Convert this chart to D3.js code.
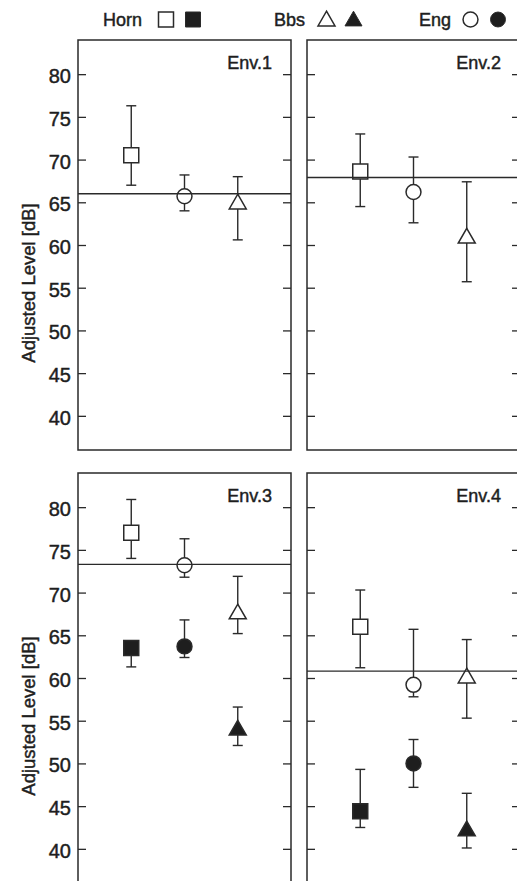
<!DOCTYPE html>
<html>
<head>
<meta charset="utf-8">
<script src="https://cdn.jsdelivr.net/npm/d3@7"></script>
<style>
  body { margin: 0; background: #fff; }
  text { font-family: "Liberation Sans", Arial, sans-serif; fill: #1e1e1e; stroke: #1e1e1e; stroke-width: 0.45px; }
</style>
</head>
<body>
<div id="chart"></div>
<script>
// Adjusted level per environment, instruments on x: Horn, Eng, Bbs
const envs = ["Env.1", "Env.2", "Env.3", "Env.4"];
const instruments = ["Horn", "Eng", "Bbs"];
const yTicks = [40, 45, 50, 55, 60, 65, 70, 75, 80];
const refLevel = [66.0, 67.9, 73.3, 60.8];

// open markers
const openMean = [[70.5, 65.7, 64.8], [68.6, 66.2, 60.8], [77.0, 73.2, 67.5], [66.0, 59.2, 60.0]];
const openLow  = [[67.0, 64.0, 60.6], [64.5, 62.6, 55.7], [74.0, 71.8, 65.2], [61.2, 57.8, 55.3]];
const openHigh = [[76.3, 68.2, 68.0], [73.0, 70.3, 67.4], [80.9, 76.3, 71.9], [70.3, 65.7, 64.5]];

// filled markers (only Env.3 and Env.4)
const filledMean = [null, null, [63.5, 63.7, 53.9], [44.4, 50.0, 42.1]];
const filledLow  = [null, null, [61.3, 62.4, 52.1], [42.5, 47.2, 40.1]];
const filledHigh = [null, null, [64.2, 66.8, 56.6], [49.3, 52.8, 46.5]];

const width = 517, height = 881;
const svg = d3.select("#chart").append("svg")
  .attr("width", width)
  .attr("height", height);

const panelW = 213, panelH = 410;
const panelX = [78, 307];
const panelY = [40, 473];
const ink = "#2a2a2a";

const shapeOf = { Horn: d3.symbolSquare, Eng: d3.symbolCircle, Bbs: d3.symbolTriangle };
const sizeOf = { Horn: 225, Eng: 175, Bbs: 125 };

// legend
const legend = [
  { name: "Horn", x: 103, open: 166, filled: 193 },
  { name: "Bbs", x: 274, open: 326.5, filled: 353.5 },
  { name: "Eng", x: 419, open: 470.5, filled: 498 }
];
legend.forEach(l => {
  svg.append("text").attr("x", l.x).attr("y", 26)
    .attr("font-size", 18).text(l.name);
  svg.append("path").attr("d", d3.symbol(shapeOf[l.name], sizeOf[l.name])())
    .attr("transform", `translate(${l.open},${l.name === "Bbs" ? 21 : 19.5})`)
    .attr("fill", "#fff").attr("stroke", ink).attr("stroke-width", 1.5);
  svg.append("path").attr("d", d3.symbol(shapeOf[l.name], sizeOf[l.name])())
    .attr("transform", `translate(${l.filled},${l.name === "Bbs" ? 21 : 19.5})`)
    .attr("fill", "#1e1e1e").attr("stroke", ink).attr("stroke-width", 1);
});

envs.forEach((env, i) => {
  const row = Math.floor(i / 2), col = i % 2;
  const x0 = panelX[col], y0 = panelY[row];
  const x = d3.scaleLinear().domain([0, 4]).range([x0, x0 + panelW]);
  const y = d3.scaleLinear().domain([36, 84]).range([y0 + panelH, y0]);
  const g = svg.append("g");

  // ticks inward on both sides
  const left = g.append("g").attr("transform", `translate(${x0},0)`)
    .call(d3.axisRight(y).tickValues(yTicks).tickSize(8).tickFormat(""));
  left.select(".domain").remove();
  left.selectAll("line").attr("stroke", ink).attr("stroke-width", 1.3);
  const right = g.append("g").attr("transform", `translate(${x0 + panelW},0)`)
    .call(d3.axisLeft(y).tickValues(yTicks).tickSize(8).tickFormat(""));
  right.select(".domain").remove();
  right.selectAll("line").attr("stroke", ink).attr("stroke-width", 1.3);

  if (col === 0) {
    g.selectAll(".ylab").data(yTicks).enter().append("text")
      .attr("x", x0 - 7).attr("y", d => y(d) + 9)
      .attr("text-anchor", "end").attr("font-size", 20)
      .text(d => d);
    g.append("text")
      .attr("transform", `translate(35,${y0 + 243}) rotate(-90)`)
      .attr("text-anchor", "middle").attr("font-size", 18.5)
      .text("Adjusted Level [dB]");
  }

  g.append("rect").attr("x", x0).attr("y", y0)
    .attr("width", panelW).attr("height", panelH)
    .attr("fill", "none").attr("stroke", ink).attr("stroke-width", 1.5);

  g.append("text").attr("x", x0 + 194).attr("y", y0 + 29)
    .attr("text-anchor", "end").attr("font-size", 18).text(env);

  const series = [
    { mean: openMean[i], low: openLow[i], high: openHigh[i], fill: "#fff" },
    { mean: filledMean[i], low: filledLow[i], high: filledHigh[i], fill: "#1e1e1e" }
  ].filter(s => s.mean);

  series.forEach(s => {
    instruments.forEach((inst, k) => {
      const cx = x(k + 1);
      const eb = g.append("g").attr("stroke", ink).attr("stroke-width", 1.4);
      eb.append("line").attr("x1", cx).attr("x2", cx)
        .attr("y1", y(s.low[k])).attr("y2", y(s.high[k]));
      [s.low[k], s.high[k]].forEach(v => {
        eb.append("line").attr("x1", cx - 5).attr("x2", cx + 5)
          .attr("y1", y(v)).attr("y2", y(v));
      });
    });
  });

  series.forEach(s => {
    instruments.forEach((inst, k) => {
      g.append("path").attr("d", d3.symbol(shapeOf[inst], sizeOf[inst])())
        .attr("transform", `translate(${x(k + 1)},${y(s.mean[k])})`)
        .attr("fill", s.fill).attr("stroke", ink).attr("stroke-width", 1.5);
    });
  });

  g.append("line")
    .attr("x1", x0).attr("x2", x0 + panelW)
    .attr("y1", y(refLevel[i])).attr("y2", y(refLevel[i]))
    .attr("stroke", ink).attr("stroke-width", 1.4);
});
</script>
</body>
</html>
